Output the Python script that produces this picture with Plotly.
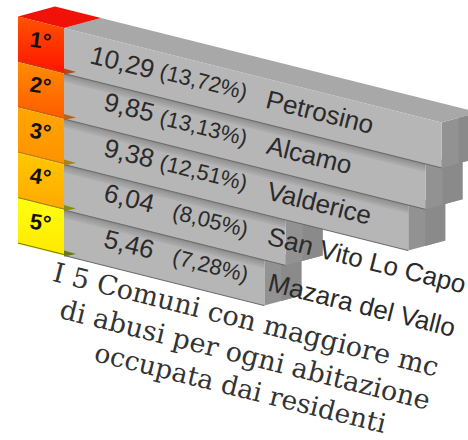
import plotly.graph_objects as go

# data
ranks = ["1°", "2°", "3°", "4°", "5°"]
comuni = ["Petrosino", "Alcamo", "Valderice", "San Vito Lo Capo", "Mazara del Vallo"]
valori = [10.29, 9.85, 9.38, 6.04, 5.46]
valori_txt = ["10,29", "9,85", "9,38", "6,04", "5,46"]
quote_txt = ["(13,72%)", "(13,13%)", "(12,51%)", "(8,05%)", "(7,28%)"]
titolo = ["I 5 Comuni con maggiore mc", "di abusi per ogni abitazione", "occupata dai residenti"]
grad = [("#ff1400", "#ff5200"), ("#ff5a00", "#ff8c00"), ("#ff9000", "#ffa800"),
        ("#ffa800", "#ffc800"), ("#ffe800", "#ffff10")]
tacche = ["#b8441a", "#b8641a", "#a8821a", "#8a8a1a", "#6a7a10"]

# projection of the slanted block
X0, Y0, SLOPE, ROW, SCALE, DX, DY, COL = 64, 28, 0.25, 45.5, 36.7, 37, -10, 46
ANGLE = 14


def front(u, r):
    return X0 + u, Y0 + r * ROW + u * SLOPE


fig = go.Figure()


def poly(pts, color, **kw):
    xs = [p[0] for p in pts] + [pts[0][0]]
    ys = [p[1] for p in pts] + [pts[0][1]]
    fig.add_trace(go.Scatter(x=xs, y=ys, mode="lines", fill="toself", fillcolor=color,
                             line=dict(width=0, color=color), hoverinfo="skip",
                             showlegend=False, **kw))


def shift(p):
    return p[0] + DX, p[1] + DY


# bars, lowest first so the upper ones cover them
for i in reversed(range(5)):
    L = valori[i] * SCALE
    a, b, c, d = front(0, i), front(L, i), front(L, i + 1), front(0, i + 1)
    poly([b, shift(b), shift(c), c], "#929292")
    poly([(b[0] + 17, b[1] - 4.6), shift(b), shift(c), (c[0] + 17, c[1] - 4.6)], "#8a8a8a")
    if i == 0:
        poly([a, shift(a), shift(b), b], "#a8a8a8")
    poly([a, b, c, d], "#b6b6b6")
    if i > 0:
        for k, alpha in enumerate([0.42, 0.3, 0.2, 0.1]):
            poly([front(0, i + k * 0.045), front(L, i + k * 0.045),
                  front(L, i + (k + 1) * 0.045), front(0, i + (k + 1) * 0.045)],
                 f"rgba(90,90,90,{alpha})")
    e, f = front(0, i + 1), front(L, i + 1)
    fig.add_trace(go.Scatter(x=[e[0], f[0]], y=[e[1], f[1]], mode="lines",
                             line=dict(color="#666666", width=1), hoverinfo="skip", showlegend=False))

# coloured rank column
poly([front(-COL, 0), shift(front(-COL, 0)), shift(front(0, 0)), front(0, 0)], "#f01208")
for i in range(5):
    poly([front(-COL, i), front(0, i), front(0, i + 1), front(-COL, i + 1)], grad[i][0],
         fillgradient=dict(type="vertical", colorscale=[[0, grad[i][0]], [1, grad[i][1]]]))
    e, f = front(-COL, i + 1), front(0, i + 1)
    fig.add_trace(go.Scatter(x=[e[0], f[0]], y=[e[1] - 1, f[1] - 1], mode="lines",
                             line=dict(color=tacche[i], width=1), hoverinfo="skip", showlegend=False))
    poly([(f[0], f[1] - 5), (f[0] + 12, f[1] - 1.5), (f[0], f[1] + 1)], tacche[i])

ann = []


def label(p, text, size, family="Liberation Sans", color="#2a2a2a", angle=ANGLE, bold=False):
    ann.append(dict(x=p[0], y=p[1], xref="x", yref="y", text=f"<b>{text}</b>" if bold else text,
                    showarrow=False, textangle=angle, xanchor="center", yanchor="middle",
                    font=dict(family=family, size=size, color=color)))


NAME_U = [256, 245, 255, 302, 298]
for i in range(5):
    label(front(-24, i + 0.4), ranks[i], 22, color="#111111", angle=8, bold=True)
    label((129 if i else 122, front(65, i + 0.38)[1]), valori_txt[i], 26)
    label((203 if i < 3 else 210, front(139 if i < 3 else 146, i + 0.42)[1]), quote_txt[i], 22)
    label(front(NAME_U[i], i + 0.45), comuni[i], 26)

label((246, 319), titolo[0], 27, family="DejaVu Serif", color="#333333")
label((245, 354), titolo[1], 27, family="DejaVu Serif", color="#333333")
label((240, 387), titolo[2], 26.5, family="DejaVu Serif", color="#333333")

fig.update_layout(
    width=468, height=440, margin=dict(l=0, r=0, t=0, b=0),
    paper_bgcolor="white", plot_bgcolor="white", showlegend=False, annotations=ann,
    xaxis=dict(range=[0, 468], visible=False, fixedrange=True),
    yaxis=dict(range=[440, 0], visible=False, fixedrange=True),
)
fig.write_html("out.html", config={"displayModeBar": False},
               post_script="document.body.style.margin='0';document.documentElement.style.overflow='hidden';")
